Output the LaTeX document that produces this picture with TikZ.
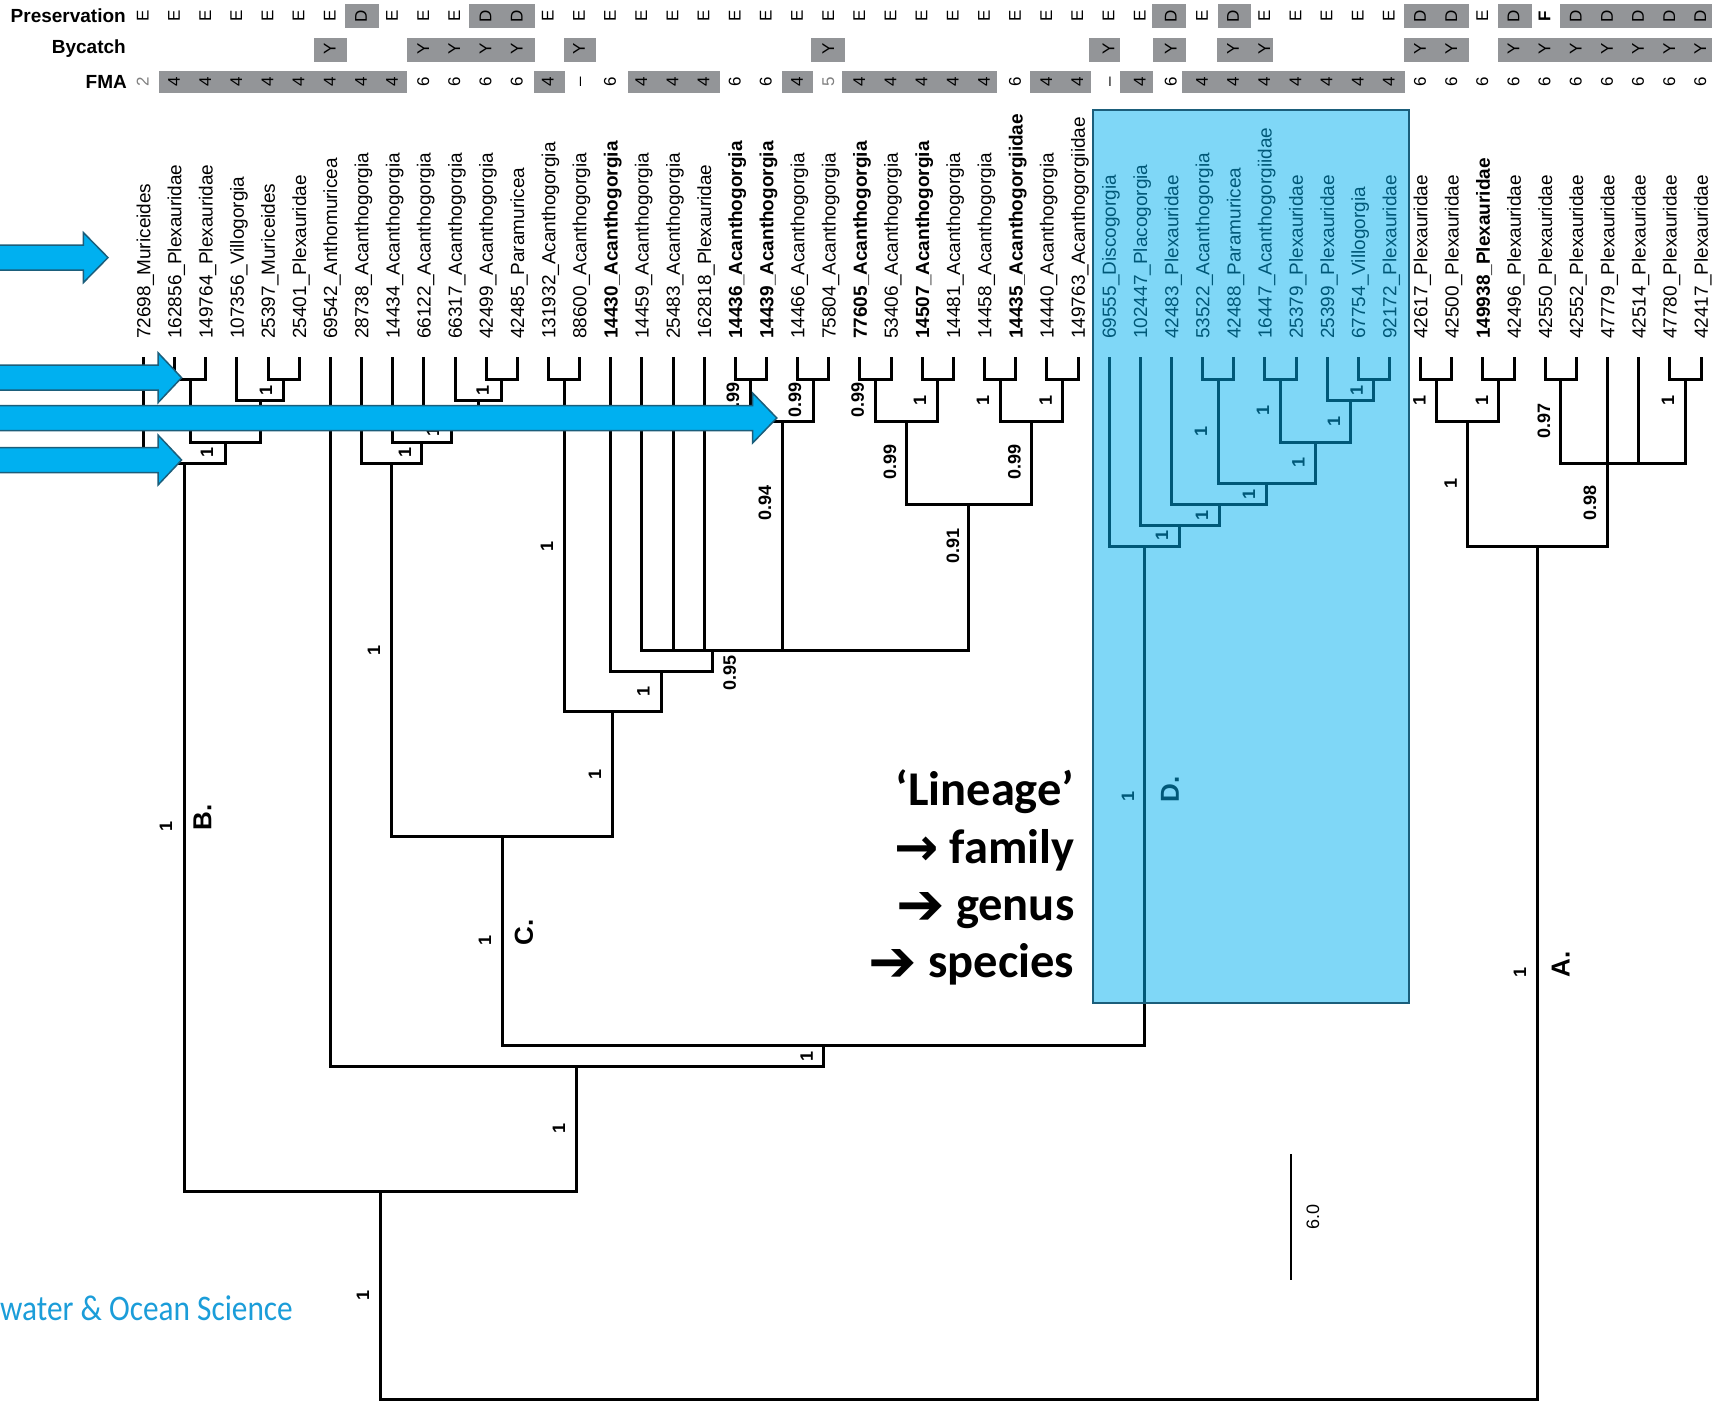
\documentclass[tikz,border=0pt]{standalone}
\usepackage{fontspec}
\setmainfont{Liberation Sans}
\newfontfamily\calfont{Carlito}
\newfontfamily\arrowfont{DejaVu Sans}
\usetikzlibrary{calc}
\definecolor{cellgrey}{HTML}{939598}
\definecolor{skyblue}{HTML}{00B0F0}
\definecolor{edgeteal}{HTML}{1B5E7B}
\definecolor{logoblue}{HTML}{1B9DD9}
\newcommand{\sz}[1]{\fontsize{#1}{#1}\selectfont}
% name, left child, right child, height of the bar
\newcommand{\clade}[4]{%
  \coordinate (mid) at ($(#2)!.5!(#3)$);
  \coordinate (#1) at (mid |- 0,#4);
  \draw[branch] (#2) |- (#1);
  \draw[branch] (#3) |- (#1);
}
% height of the shaft, x of the head, x of the tip
\newcommand{\pointer}[3]{%
  \filldraw[bigarrow] (-3,#1-12.5)--(#2,#1-12.5)--(#2,#1-25)--(#3,#1)--(#2,#1+25)--(#2,#1+12.5)--(-3,#1+12.5)--cycle;
}
\begin{document}
\begin{tikzpicture}[
  x=1pt,y=-1pt,
  branch/.style={line width=3pt},
  cell/.style={rotate=90,inner sep=0pt,text height=12.2pt,text depth=0pt,font=\sz{17}},
  head/.style={anchor=east,inner sep=0pt,font=\bfseries\sz{19}},
  leaf/.style={rotate=90,anchor=west,inner sep=0pt,text height=13.6pt,text depth=0pt,font=\sz{19}},
  support/.style={rotate=90,inner sep=0pt,font=\bfseries\sz{18}},
  letter/.style={rotate=90,inner sep=0pt,font=\bfseries\sz{26}},
  lineage/.style={anchor=base east,inner sep=0pt,font=\calfont\bfseries\sz{48.5}},
  bigarrow/.style={fill=skyblue,draw=edgeteal,line width=1.5pt,line join=miter}
]
\useasboundingbox (0,0) rectangle (1716,1401);

% grey cells of the three rows
\foreach \xa/\xb in {344.5/378.5,469/535,1152/1186,1217.5/1251,1404/1468.6,1498/1532,1560/1712}
  \fill[cellgrey] (\xa,4) rectangle (\xb,28);
\foreach \xa/\xb in {313.8/347,406.5/535.4,564/596,810.7/844.7,1088.7/1120.4,1152.6/1186.4,1216.5/1273,1404/1468.6,1498/1712}
  \fill[cellgrey] (\xa,38) rectangle (\xb,62);
\foreach \xa/\xb in {158.5/406.5,533.7/565,627.5/719.7,781.7/813,842/996.5,1029.8/1091,1120/1152.6,1182/1405}
  \fill[cellgrey] (\xa,71) rectangle (\xb,93);

\node[head] (preservation) at (126,16) {Preservation};
\node[head] (bycatch) at (126,49) {Bycatch};
\node[head] (fma) at (127,82) {FMA};

\foreach \lab [count=\i from 0] in {E,E,E,E,E,E,E,D,E,E,E,D,D,E,E,E,E,E,E,E,E,E,E,E,E,E,E,E,E,E,E,E,E,D,E,D,E,E,E,E,E,D,D,E,D,\textbf{F},D,D,D,D,D}
  \node[cell] (pres\i) at (142.6+31.15*\i,16) {\lab};
\foreach \i in {6,9,10,11,12,14,22,31,33,35,36,41,42,44,45,46,47,48,49,50}
  \node[cell] (by\i) at (142.6+31.15*\i,49) {Y};
\foreach \lab [count=\i from 0] in {\textcolor{gray}{2},4,4,4,4,4,4,4,4,6,6,6,6,4,--,6,4,4,4,6,6,4,\textcolor{gray}{5},4,4,4,4,4,6,4,4,--,4,6,4,4,4,4,4,4,4,6,6,6,6,6,6,6,6,6,6}
  \node[cell] (fma\i) at (142.6+31.15*\i,82) {\lab};

% tips and their names
\foreach \lab [count=\i from 0] in {72698\_Muriceides,162856\_Plexauridae,149764\_Plexauridae,107356\_Villogorgia,25397\_Muriceides,25401\_Plexauridae,69542\_Anthomuricea,28738\_Acanthogorgia,14434\_Acanthogorgia,66122\_Acanthogorgia,66317\_Acanthogorgia,42499\_Acanthogorgia,42485\_Paramuricea,131932\_Acanthogorgia,88600\_Acanthogorgia,\textbf{14430\_Acanthogorgia},14459\_Acanthogorgia,25483\_Acanthogorgia,162818\_Plexauridae,\textbf{14436\_Acanthogorgia},\textbf{14439\_Acanthogorgia},14466\_Acanthogorgia,75804\_Acanthogorgia,\textbf{77605\_Acanthogorgia},53406\_Acanthogorgia,\textbf{14507\_Acanthogorgia},14481\_Acanthogorgia,14458\_Acanthogorgia,\textbf{14435\_Acanthogorgiidae},14440\_Acanthogorgia,149763\_Acanthogorgiidae,69555\_Discogorgia,102447\_Placogorgia,42483\_Plexauridae,53522\_Acanthogorgia,42488\_Paramuricea,16447\_Acanthogorgiidae,25379\_Plexauridae,25399\_Plexauridae,67754\_Villogorgia,92172\_Plexauridae,42617\_Plexauridae,42500\_Plexauridae,\textbf{149938\_Plexauridae},42496\_Plexauridae,42550\_Plexauridae,42552\_Plexauridae,47779\_Plexauridae,42514\_Plexauridae,47780\_Plexauridae,42417\_Plexauridae}
{
  \coordinate (t\i) at (143.5+31.15*\i,357);
  \node[leaf] (name\i) at (143.5+31.15*\i,339) {\lab};
}

% clade B
\clade{b1}{t1}{t2}{379}
\clade{b2}{t4}{t5}{379}
\clade{b3}{t3}{b2}{400}
\clade{b4}{b1}{b3}{442}
\clade{b5}{t0}{b4}{463}
% clade C
\clade{c1}{t11}{t12}{379}
\clade{c2}{t10}{c1}{400}
\clade{c3}{t9}{c2}{421}
\clade{c4}{t8}{c3}{442}
\clade{c5}{t7}{c4}{463}
\clade{c6}{t13}{t14}{379}
\clade{c7}{t19}{t20}{379}
\clade{c8}{t21}{t22}{379}
\clade{c9}{c7}{c8}{421}
\clade{c10}{t23}{t24}{379}
\clade{c11}{t25}{t26}{379}
\clade{c12}{c10}{c11}{421}
\clade{c13}{t27}{t28}{379}
\clade{c14}{t29}{t30}{379}
\clade{c15}{c13}{c14}{421}
\clade{c16}{c12}{c15}{504}
\coordinate (c17) at (712.5,650);
\foreach \kid in {t16,t17,t18,c9,c16}
  \draw[branch] (\kid) |- (c17);
\clade{c18}{t15}{c17}{671}
\clade{c19}{c6}{c18}{711}
\clade{c20}{c5}{c19}{836}
% clade D
\clade{d1}{t39}{t40}{379}
\clade{d2}{t38}{d1}{400}
\clade{d3}{t36}{t37}{379}
\clade{d4}{d3}{d2}{442}
\clade{d5}{t34}{t35}{379}
\clade{d6}{d5}{d4}{483}
\clade{d7}{t33}{d6}{504}
\clade{d8}{t32}{d7}{525}
\clade{d9}{t31}{d8}{546}
% clade A
\clade{a1}{t41}{t42}{379}
\clade{a2}{t43}{t44}{379}
\clade{a3}{a1}{a2}{421}
\clade{a4}{t45}{t46}{379}
\clade{a5}{t49}{t50}{379}
\coordinate (a6) at (1607.55,463);
\foreach \kid in {a4,t47,t48,a5}
  \draw[branch] (\kid) |- (a6);
\clade{a7}{a3}{a6}{546}
% the deep branches
\clade{r1}{c20}{d9}{1045}
\clade{r2}{t6}{r1}{1066}
\clade{r3}{b5}{r2}{1191}
\clade{r4}{r3}{a7}{1399}

% support values
\foreach \x/\y/\val [count=\k] in {266/390/1,482.7/390/1,433/431/1,405/452.7/1,207/452.7/1,733/400/0.99,795/400/0.99,857.7/400/0.99,765/503/0.94,547/546/1,374/650/1,643.5/691.7/1,729.6/672.7/0.95,920/400/1,982.8/400/1,1045.6/400/1,890/462/0.99,1014.5/462/0.99,952.8/546/0.91,1201/431/1,1263/410/1,1356.7/390/1,1333.8/421/1,1298.3/462.7/1,1249/494/1,1202/515/1,1162/535.7/1,1419.5/400/1,1482/400/1,1544/421/0.97,1668/400/1,1450.6/483/1,1590/503/0.98,166/826/1,595/774/1,485/940/1,806.6/1056/1,559/1128/1,363/1295/1,1128/796/1,1520/972/1}
  \node[support] (s\k) at (\x,\y) {\val};

\node[letter] (cladeB) at (202.5,817) {B.};
\node[letter] (cladeC) at (524,932) {C.};
\node[letter] (cladeD) at (1170,789) {D.};
\node[letter] (cladeA) at (1560.6,964) {A.};

% highlight over clade D
\fill[skyblue,fill opacity=.5] (1093,110) rectangle (1409,1003);
\draw[edgeteal,line width=2.2pt] (1093,110) rectangle (1409,1003);

% pointers
\pointer{257.6}{83.4}{108}
\pointer{377.7}{158}{181.6}
\pointer{418}{752.6}{776.8}
\pointer{460}{158}{181.6}

% scale bar
\coordinate (scaletop) at (1291,1154);
\coordinate (scalebot) at (1291,1280);
\draw[line width=2pt] (scaletop)--(scalebot);
\node[rotate=90,inner sep=0pt,font=\sz{18}] (scalelab) at (1313,1217) {6.0};

\node[lineage] (line1) at (1074.5,805) {‘Lineage’};
\node[lineage] (line2) at (1074.5,863.7) {\raisebox{-2pt}{\arrowfont\sz{53}→} family};
\node[lineage] (line3) at (1074.5,920) {\raisebox{-4pt}{\arrowfont\sz{58}➔} genus};
\node[lineage] (line4) at (1074.5,977.7) {\raisebox{-4pt}{\arrowfont\sz{58}➔} species};

\node[anchor=base east,inner sep=0pt,text=logoblue,xscale=.87,font=\calfont\sz{36}] (logo) at (293,1320) {water \& Ocean Science};
\end{tikzpicture}
\end{document}
